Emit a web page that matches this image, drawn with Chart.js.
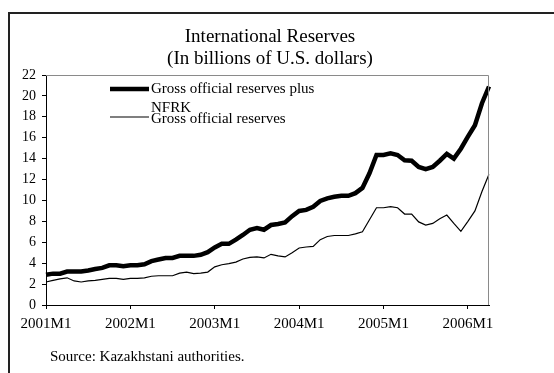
<!DOCTYPE html>
<html>
<head>
<meta charset="utf-8">
<script src="https://cdn.jsdelivr.net/npm/chart.js@4.4.1/dist/chart.umd.min.js"></script>
<style>
  html, body { margin: 0; padding: 0; background: #fff; }
  #wrap { width: 554px; height: 373px; }
</style>
</head>
<body>
<div id="wrap"><canvas id="reserves"></canvas></div>
<script>
// monthly periods 2001M1 .. 2006M4
const months = [];
for ( let y = 2001; y <= 2006; y++ ) {
  for ( let m = 1; m <= 12; m++ ) {
    if ( y === 2006 && m > 4 ) break;
    months.push( y + 'M' + m );
  }
}

// billions of U.S. dollars
const grossPlusNfrk = [
  2.9, 3.0, 3.0, 3.2, 3.2, 3.2, 3.3, 3.45, 3.55, 3.8, 3.8, 3.7,
  3.8, 3.8, 3.9, 4.2, 4.35, 4.5, 4.5, 4.7, 4.7, 4.7, 4.8, 5.05,
  5.5, 5.85, 5.85, 6.25, 6.7, 7.2, 7.35, 7.2, 7.65, 7.75, 7.9, 8.5,
  9.0, 9.1, 9.4, 9.95, 10.2, 10.35, 10.45, 10.45, 10.7, 11.2, 12.6, 14.35,
  14.35, 14.5, 14.35, 13.85, 13.8, 13.2, 13.0, 13.2, 13.8, 14.45, 14.0, 14.95,
  16.1, 17.2, 19.3, 20.9
];
const grossReserves = [
  2.2, 2.35, 2.5, 2.6, 2.3, 2.2, 2.3, 2.35, 2.45, 2.55, 2.55, 2.45,
  2.55, 2.55, 2.6, 2.75, 2.8, 2.8, 2.8, 3.05, 3.15, 3.0, 3.05, 3.15,
  3.65, 3.85, 3.95, 4.1, 4.4, 4.55, 4.6, 4.5, 4.85, 4.7, 4.6, 5.0,
  5.45, 5.55, 5.6, 6.25, 6.55, 6.65, 6.65, 6.65, 6.8, 7.0, 8.15, 9.3,
  9.3, 9.4, 9.3, 8.7, 8.7, 7.95, 7.65, 7.8, 8.25, 8.6, 7.8, 7.05,
  8.0, 9.0, 10.85, 12.5
];
const yTicks = [ 0, 2, 4, 6, 8, 10, 12, 14, 16, 18, 20, 22 ];

const titleLines = [ 'International Reserves', '(In billions of U.S. dollars)' ];
const sourceNote = 'Source: Kazakhstani authorities.';

const serif = "'Liberation Serif', 'Times New Roman', serif";

// frame, titles, plot box and the hand-placed legend
const decorations = {
  id: 'decorations',
  beforeDraw( chart ) {
    const ctx = chart.ctx;
    ctx.save();
    ctx.strokeStyle = '#222';
    ctx.lineWidth = 2;
    ctx.beginPath();
    ctx.moveTo( 9, 373 );
    ctx.lineTo( 9, 13 );
    ctx.lineTo( 554, 13 );
    ctx.stroke();
    ctx.restore();
  },
  afterDraw( chart ) {
    const ctx = chart.ctx;
    const area = chart.chartArea;
    ctx.save();

    ctx.strokeStyle = '#8a8a8a';
    ctx.lineWidth = 1;
    ctx.beginPath();
    ctx.moveTo( area.left, area.top + 0.5 );
    ctx.lineTo( area.right - 0.5, area.top + 0.5 );
    ctx.lineTo( area.right - 0.5, area.bottom );
    ctx.stroke();

    ctx.fillStyle = '#000';
    ctx.textAlign = 'center';
    ctx.textBaseline = 'middle';
    ctx.font = '19px ' + serif;
    ctx.fillText( titleLines[ 0 ], 270, 37 );
    ctx.fillText( titleLines[ 1 ], 270, 59 );

    ctx.textAlign = 'left';
    ctx.font = '15px ' + serif;
    ctx.fillText( sourceNote, 50, 357 );

    // legend
    const rows = [ { y: 89, textY: 89 }, { y: 117, textY: 119 } ];
    ctx.font = '15px ' + serif;
    chart.data.datasets.forEach( ( ds, i ) => {
      const r = rows[ i ];
      ctx.strokeStyle = ds.borderColor;
      ctx.lineWidth = ds.borderWidth;
      ctx.lineCap = 'butt';
      ctx.beginPath();
      ctx.moveTo( 110, r.y );
      ctx.lineTo( 149, r.y );
      ctx.stroke();
      ds.label.split( '\n' ).forEach( ( line, j ) => {
        ctx.fillText( line, 151, r.textY + j * 19 );
      } );
    } );

    ctx.restore();
  }
};

new Chart( document.getElementById( 'reserves' ), {
  type: 'line',
  data: {
    labels: months,
    datasets: [ {
      label: 'Gross official reserves plus\nNFRK',
      data: grossPlusNfrk,
      borderColor: '#000',
      borderWidth: 4.5,
      pointRadius: 0,
      tension: 0,
    }, {
      label: 'Gross official reserves',
      data: grossReserves,
      borderColor: '#000',
      borderWidth: 1.2,
      pointRadius: 0,
      tension: 0,
    } ]
  },
  options: {
    responsive: true,
    maintainAspectRatio: false,
    animation: false,
    devicePixelRatio: 1,
    layout: {
      padding: { left: 8, right: 65, top: 75, bottom: 0 }
    },
    plugins: {
      legend: { display: false },
      title: { display: false },
      tooltip: { enabled: false },
    },
    scales: {
      x: {
        offset: false,
        afterFit: ( scale ) => { scale.height = 68; },
        border: { display: true, color: '#000', width: 1 },
        grid: {
          drawOnChartArea: false,
          drawTicks: true,
          tickLength: 4,
          color: '#000',
        },
        ticks: {
          autoSkip: false,
          maxRotation: 0,
          padding: 6,
          color: '#000',
          font: { family: serif, size: 15 },
          callback: function( value, index ) {
            const label = this.getLabelForValue( value );
            return label.endsWith( 'M1' ) ? label : null;
          },
        },
      },
      y: {
        min: 0,
        max: 22,
        afterFit: ( scale ) => { scale.width = 38; },
        afterBuildTicks: ( scale ) => {
          scale.ticks = yTicks.map( ( v ) => ( { value: v } ) );
        },
        border: { display: true, color: '#000', width: 1 },
        grid: {
          drawOnChartArea: false,
          drawTicks: true,
          tickLength: 4,
          color: '#000',
        },
        ticks: {
          padding: 6,
          color: '#000',
          font: { family: serif, size: 14 },
        },
      },
    },
  },
  plugins: [ decorations ],
} );
</script>
</body>
</html>
